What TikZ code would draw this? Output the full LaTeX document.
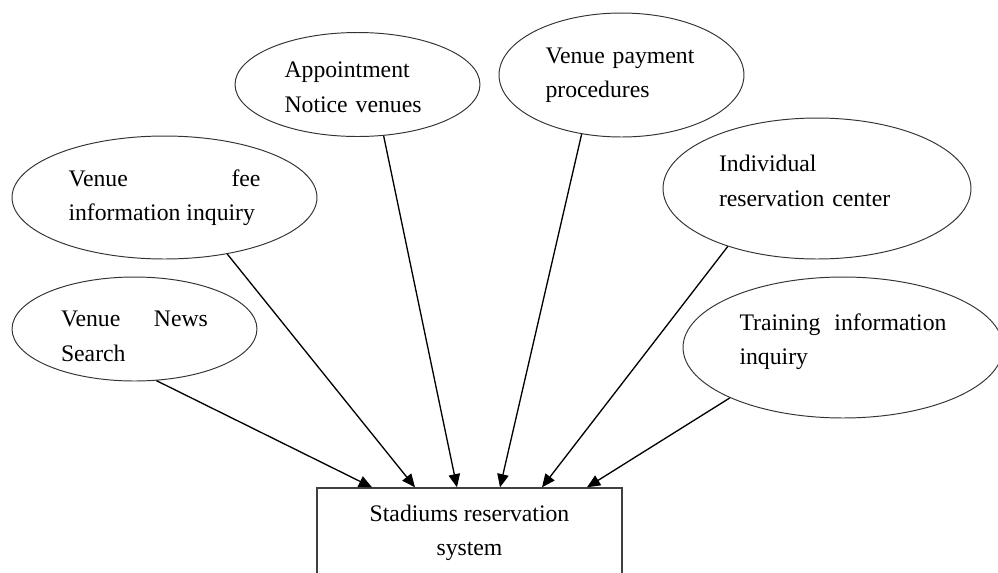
\documentclass[tikz,border=0pt]{standalone}
\usepackage{fontspec}
\setmainfont{Liberation Serif}
\usetikzlibrary{shapes.geometric, arrows.meta, calc}
\hyphenpenalty=10000
\tolerance=10000
\begin{document}
\begin{tikzpicture}[x=0.02cm, y=-0.02cm,
    venue/.style={draw=black!80, line width=0.55pt, ellipse, inner sep=0pt,
        font=\fontsize{13.5}{19.6}\selectfont},
    sysbox/.style={draw=black!75, line width=0.8pt, rectangle, align=center,
        minimum width=6.1cm, minimum height=1.8cm,
        font=\fontsize{13.5}{19.6}\selectfont},
    conn/.style={-{Triangle[length=7.5pt, width=6.5pt]}, line width=0.75pt}]
    \path[use as bounding box, clip] (0,0) rectangle (998,572);

    \node[venue, minimum width=4.9cm, minimum height=2.08cm, text width=2.92cm, align=left] at (357.5,84.5) (notice) {\rule{0pt}{12.3pt}Appointment\\ Notice venues};
    \node[venue, minimum width=4.9cm, minimum height=2.48cm, text width=3.04cm, align=left] at (621.5,75) (pay) {Venue payment\\ procedures};
    \node[venue, minimum width=6.1cm, minimum height=2.46cm, text width=3.84cm, align=justify] at (164.5,197.5) (fee) {Venue fee information inquiry};
    \node[venue, minimum width=6.16cm, minimum height=2.82cm, text width=3.92cm, align=left] at (817,188.5) (indiv) {Individual\\ reservation center\rule[-9pt]{0pt}{9pt}};
    \node[venue, minimum width=4.9cm, minimum height=2.08cm, text width=2.94cm, align=justify] at (134.5,329) (news) {\rule{0pt}{17pt}Venue News Search};
    \node[venue, minimum width=6.4cm, minimum height=2.82cm, text width=4.14cm, align=justify] at (843,347.5) (train) {Training information inquiry\rule[-9.7pt]{0pt}{9.7pt}};

    \node[sysbox] at (469.5,533) (system) {Stadiums reservation\\ system};

    \draw[conn] (news.-67) to ($(system.north)+(-97.5,0)$);
    \draw[conn] (fee.-42.6) to ($(system.north)+(-54.5,0)$);
    \draw[conn] (notice.-63) to ($(system.north)+(-12.5,0)$);
    \draw[conn] (pay.-124) to ($(system.north)+(30.5,0)$);
    \draw[conn] (indiv.-147) to ($(system.north)+(72.5,0)$);
    \draw[conn] (train.-156) to ($(system.north)+(117.5,0)$);
\end{tikzpicture}
\end{document}
